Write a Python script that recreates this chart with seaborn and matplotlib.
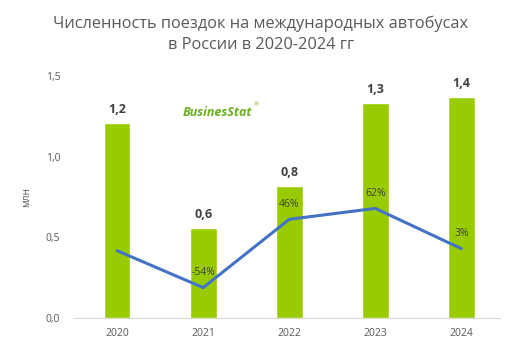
import numpy as np
import pandas as pd
import seaborn as sns
import matplotlib.pyplot as plt
from matplotlib.ticker import FuncFormatter

# данные
years = ["2020", "2021", "2022", "2023", "2024"]
trips = [1.21, 0.56, 0.82, 1.33, 1.37]          # млн поездок
trip_labels = ["1,2", "0,6", "0,8", "1,3", "1,4"]
growth = [0, -54, 46, 62, 3]                    # прирост, %
growth_labels = ["", "-54%", "46%", "62%", "3%"]

sns.set_style("white")
plt.rcParams['font.family'] = ['Open Sans', 'DejaVu Sans']

grey = "#595959"
dark = "#404040"
bar_color = "#99cc00"
line_color = "#4472c4"

fig = plt.figure(figsize=(5.22, 3.53), dpi=100)
ax = fig.add_axes([0.142, 0.099, 0.816, 0.686])

df = pd.DataFrame({"year": years, "trips": trips})
sns.barplot(data=df, x="year", y="trips", color=bar_color, width=0.31,
            saturation=1, ax=ax)
ax.set_ylim(0, 1.5)
ax.set_xlim(-0.5, 4.45)
ax.set_yticks([0, 0.5, 1.0, 1.5])
ax.yaxis.set_major_formatter(FuncFormatter(lambda v, p: f"{v:.1f}".replace(".", ",")))
ax.tick_params(axis="both", length=0, labelsize=7.5, labelcolor=grey)
ax.tick_params(axis="y", pad=10)
ax.tick_params(axis="x", pad=7)
ax.set_xlabel("")
ax.set_ylabel("млн", fontsize=7.5, color=grey, labelpad=10)
for s in ["left", "right", "top"]:
    ax.spines[s].set_visible(False)
ax.spines["bottom"].set_color("#d9d9d9")

# подписи столбцов
for i, (v, lab) in enumerate(zip(trips, trip_labels)):
    ax.annotate(lab, (i, v), xytext=(0, 5), textcoords="offset points",
                ha="center", va="bottom", fontsize=9, fontweight="bold", color=dark)

# линия прироста на второй оси
ax2 = ax.twinx()
pos = np.arange(len(years))
sns.lineplot(x=pos, y=growth, color=line_color, linewidth=2.2, ax=ax2)
ax2.set_ylim(-98.6, 256)
ax2.axis("off")
for i, (g, lab) in enumerate(zip(growth, growth_labels)):
    if lab:
        ax2.annotate(lab, (i, g), xytext=(0, 7), textcoords="offset points",
                     ha="center", va="bottom", fontsize=7.5, color=dark)

# заголовок
fig.text(0.5, 0.903, "Численность поездок на международных автобусах\nв России в 2020-2024 гг",
         ha="center", va="center", fontsize=11.8, color=grey, linespacing=1.45)

# логотип
fig.text(0.35, 0.672, "BusinesStat", fontsize=9, fontweight="bold", style="italic",
         color="#6ab023")
fig.text(0.487, 0.7, "®", fontsize=4.5, color="#6ab023")

fig.savefig("out.png", dpi=100)
